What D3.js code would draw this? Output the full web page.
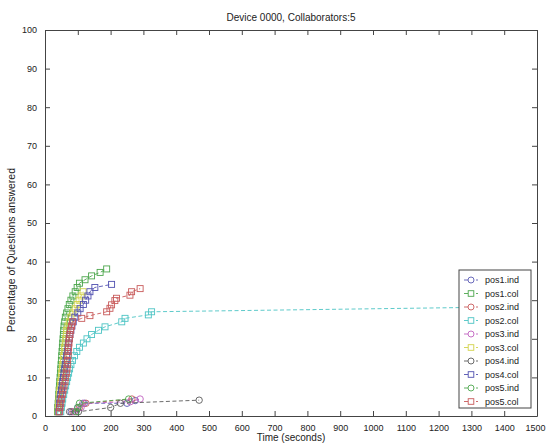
<!DOCTYPE html>
<html><head><meta charset="utf-8">
<script src="https://cdn.jsdelivr.net/npm/d3@7"></script>
<style>body{margin:0;background:#fff}svg{display:block}text{font-family:"Liberation Sans",Arial,sans-serif}</style>
</head><body><svg id="c" width="546" height="446"></svg>
<script>
const title = "Device 0000, Collaborators:5";
const xLabel = "Time (seconds)";
const yLabel = "Percentage of Questions answered";
const xTicks = [0,100,200,300,400,500,600,700,800,900,1000,1100,1200,1300,1400,1500];
const yTicks = [0,10,20,30,40,50,60,70,80,90,100];
const seriesNames = ["pos1.ind","pos1.col","pos2.ind","pos2.col","pos3.ind","pos3.col","pos4.ind","pos4.col","pos5.ind","pos5.col"];
const seriesColors = ["#5a5ab4","#4ca64c","#c85a5a","#4cc4c4","#c060c0","#d2d24a","#5a5a5a","#5050b0","#4ca64c","#c85a5a"];
const seriesMarkers = ["circle","square","circle","square","circle","square","circle","square","circle","square"];

const pos1Ind = [[80,1.1],[100,2.2],[120,3.3],[250,3.3],[275,4.0]];
const pos1Col = [[38,1.1],[39,2.2],[40,3.3],[41,4.4],[42,5.6],[43,6.7],[44,7.8],[45,8.9],[46,10.0],[47,11.1],[48,12.2],[49,13.3],[50,14.4],[51,15.6],[52,16.7],[53,17.8],[54,18.9],[55,20.0],[56,21.1],[57,22.2],[58,23.3],[60,24.4],[62,25.6],[66,26.7],[70,27.8],[74,28.9],[79,30.0],[85,31.1],[92,32.2],[98,33.3],[105,34.4],[122,35.3],[142,36.3],[168,37.2],[188,38.1]];
const pos2Ind = [[85,1.1],[105,2.2],[125,3.3],[265,4.4]];
const pos2Col = [[48,1.1],[50,2.2],[52,3.3],[54,4.4],[57,5.6],[60,6.7],[63,7.8],[66,8.9],[69,10.0],[72,11.1],[75,12.2],[79,13.3],[84,14.4],[90,15.6],[97,16.7],[105,17.8],[117,18.9],[128,20.0],[142,21.1],[163,22.2],[183,23.1],[234,24.4],[244,25.3],[315,26.2],[325,27.0],[1450,28.3]];
const pos3Ind = [[90,1.1],[110,2.2],[115,3.3],[260,3.7],[290,4.4]];
const pos3Col = [[40,1.1],[41,2.2],[42,3.3],[43,4.4],[44,5.6],[45,6.7],[47,7.8],[48,8.9],[50,10.0],[51,11.1],[53,12.2],[54,13.3],[56,14.4],[57,15.6],[59,16.7],[60,17.8],[62,18.9],[63,20.0],[65,21.1],[66,22.2],[70,23.3],[74,24.4],[79,25.6],[85,26.7],[92,27.8],[98,28.9],[104,30.0],[110,31.1],[116,32.2]];
const pos4Ind = [[75,1.1],[102,1.1],[200,2.2],[230,3.3],[470,4.1]];
const pos4Col = [[42,1.1],[44,2.2],[45,3.3],[46,4.4],[48,5.6],[50,6.7],[52,7.8],[54,8.9],[56,10.0],[58,11.1],[60,12.2],[62,13.3],[64,14.4],[66,15.6],[68,16.7],[70,17.8],[72,18.9],[74,20.0],[76,21.1],[79,22.2],[82,23.3],[86,24.4],[91,25.6],[100,26.7],[107,27.8],[117,28.9],[124,30.0],[131,31.1],[137,32.2],[152,33.3],[203,34.1]];
const pos5Ind = [[95,1.1],[100,2.2],[105,3.3],[255,4.4]];
const pos5Col = [[44,1.1],[46,2.2],[48,3.3],[50,4.4],[53,5.6],[55,6.7],[58,7.8],[61,8.9],[63,10.0],[65,11.1],[67,12.2],[68,13.3],[69,14.4],[70,15.6],[71,16.7],[72,17.8],[73,18.9],[74,20.0],[76,21.1],[78,22.2],[81,23.3],[84,24.4],[112,25.3],[137,26.0],[188,27.0],[198,27.9],[203,28.8],[213,29.9],[218,30.5],[259,31.3],[264,32.2],[290,33.0]];
const seriesData = [pos1Ind,pos1Col,pos2Ind,pos2Col,pos3Ind,pos3Col,pos4Ind,pos4Col,pos5Ind,pos5Col];

const svg = d3.select("#c");
const L=45,R=537,T=30,B=416;
const x = d3.scaleLinear().domain([0,1500]).range([L,R]);
const y = d3.scaleLinear().domain([0,100]).range([B,T]);
const axisColor = "#444";
const fmt = d3.format("d");

const gx = svg.append("g").attr("transform",`translate(0,${B})`)
  .call(d3.axisBottom(x).tickValues(xTicks).tickFormat(fmt).tickSizeInner(-5).tickSizeOuter(0).tickPadding(9));
const gxt = svg.append("g").attr("transform",`translate(0,${T})`)
  .call(d3.axisTop(x).tickValues(xTicks).tickSizeInner(-5).tickSizeOuter(0).tickFormat(""));
const gy = svg.append("g").attr("transform",`translate(${L},0)`)
  .call(d3.axisLeft(y).tickValues(yTicks).tickFormat(fmt).tickSizeInner(-5).tickSizeOuter(0).tickPadding(8));
const gyr = svg.append("g").attr("transform",`translate(${R},0)`)
  .call(d3.axisRight(y).tickValues(yTicks).tickSizeInner(-5).tickSizeOuter(0).tickFormat(""));
[gx,gxt,gy,gyr].forEach(g=>{
  g.selectAll("path").attr("stroke",axisColor).attr("stroke-width",1);
  g.selectAll("line").attr("stroke",axisColor).attr("stroke-width",1);
  g.selectAll("text").attr("fill","#222").style("font-size","9px").style("font-family","'Liberation Sans',Arial,sans-serif");
});
// keep the last x tick label inside the window
gx.selectAll(".tick text").filter(d=>d===xTicks[xTicks.length-1]).attr("text-anchor","end").attr("dx","8");

const line = d3.line().x(d=>x(d[0])).y(d=>y(d[1]));
const plot = svg.append("g");
seriesData.forEach((data,i)=>{
  const c = seriesColors[i];
  plot.append("path").datum(data).attr("d",line).attr("fill","none")
    .attr("stroke",c).attr("stroke-width",0.9).attr("stroke-dasharray","4,2.5");
  const g = plot.append("g");
  if (seriesMarkers[i]==="circle") {
    g.selectAll("circle").data(data).join("circle")
      .attr("cx",d=>x(d[0])).attr("cy",d=>y(d[1])).attr("r",3.2)
      .attr("fill","none").attr("stroke",c).attr("stroke-width",0.9);
  } else {
    g.selectAll("rect").data(data).join("rect")
      .attr("x",d=>x(d[0])-3).attr("y",d=>y(d[1])-3).attr("width",6).attr("height",6)
      .attr("fill","none").attr("stroke",c).attr("stroke-width",0.9);
  }
});

svg.append("text").attr("x",(L+R)/2).attr("y",21).attr("text-anchor","middle")
  .style("font-size","10px").attr("fill","#222").text(title);
svg.append("text").attr("x",(L+R)/2).attr("y",441).attr("text-anchor","middle")
  .style("font-size","10px").attr("fill","#222").text(xLabel);
svg.append("text").attr("transform","translate(15,250) rotate(-90)").attr("text-anchor","middle")
  .style("font-size","10.5px").attr("fill","#222").text(yLabel);

const lg = svg.append("g");
const lx=459, ly=270, lw=72, lh=138, rowH=13.5;
lg.append("rect").attr("x",lx).attr("y",ly).attr("width",lw).attr("height",lh)
  .attr("fill","#fff").attr("stroke",axisColor).attr("stroke-width",1);
seriesNames.forEach((n,i)=>{
  const cy = ly+10+i*rowH;
  const c = seriesColors[i];
  lg.append("line").attr("x1",lx+5).attr("x2",lx+19).attr("y1",cy).attr("y2",cy)
    .attr("stroke",c).attr("stroke-width",0.9).attr("stroke-dasharray","4,2");
  if (seriesMarkers[i]==="circle") {
    lg.append("circle").attr("cx",lx+12).attr("cy",cy).attr("r",3).attr("fill","#fff").attr("stroke",c).attr("stroke-width",0.9);
  } else {
    lg.append("rect").attr("x",lx+9.2).attr("y",cy-2.8).attr("width",5.6).attr("height",5.6).attr("fill","#fff").attr("stroke",c).attr("stroke-width",0.9);
  }
  lg.append("text").attr("x",lx+26).attr("y",cy+3).style("font-size","9px").attr("fill","#222").text(n);
});
</script></body></html>
